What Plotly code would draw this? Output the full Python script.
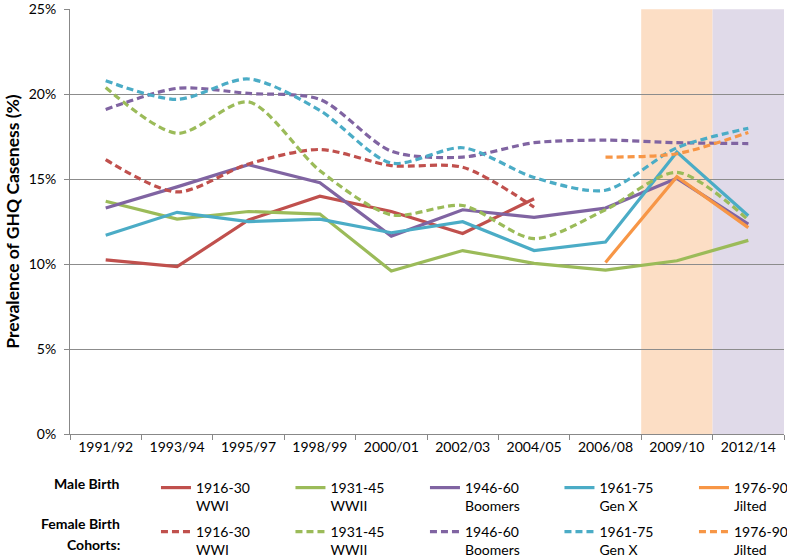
import plotly.graph_objects as go

categories = ["1991/92", "1993/94", "1995/97", "1998/99", "2000/01",
              "2002/03", "2004/05", "2006/08", "2009/10", "2012/14"]

male_1916_30 = [10.25, 9.85, 12.6, 14.0, 13.1, 11.8, 13.85, None, None, None]
male_1931_45 = [13.7, 12.65, 13.1, 12.95, 9.6, 10.8, 10.05, 9.65, 10.2, 11.4]
male_1946_60 = [13.3, 14.55, 15.85, 14.8, 11.65, 13.2, 12.75, 13.3, 15.05, 12.35]
male_1961_75 = [11.7, 13.05, 12.5, 12.65, 11.85, 12.5, 10.8, 11.3, 16.6, 12.85]
male_1976_90 = [None, None, None, None, None, None, None, 10.1, 15.15, 12.15]

female_1916_30 = [16.15, 14.25, 15.9, 16.75, 15.8, 15.7, 13.35, None, None, None]
female_1931_45 = [20.4, 17.7, 19.55, 15.5, 12.9, 13.45, 11.5, 13.2, 15.4, 12.6]
female_1946_60 = [19.1, 20.35, 20.05, 19.7, 16.65, 16.3, 17.15, 17.3, 17.15, 17.1]
female_1961_75 = [20.8, 19.7, 20.9, 19.05, 15.95, 16.85, 15.1, 14.35, 16.85, 18.0]
female_1976_90 = [None, None, None, None, None, None, None, 16.3, 16.5, 17.75]

cohort_labels = ["1916-30<br>WWI", "1931-45<br>WWII", "1946-60<br>Boomers",
                 "1961-75<br>Gen X", "1976-90<br>Jilted"]
y_ticks = [0, 5, 10, 15, 20, 25]
y_tick_labels = ["0%", "5%", "10%", "15%", "20%", "25%"]

colors = ["#C0504D", "#9BBB59", "#8064A2", "#4BACC6", "#F79646"]
FONT = "Lato, 'Open Sans', sans-serif"

fig = go.Figure()
males = [male_1916_30, male_1931_45, male_1946_60, male_1961_75, male_1976_90]
females = [female_1916_30, female_1931_45, female_1946_60, female_1961_75, female_1976_90]

for vals, lab, col in zip(males, cohort_labels, colors):
    fig.add_trace(go.Scatter(x=categories, y=vals, mode="lines", name=lab,
                             legend="legend",
                             line=dict(color=col, width=3.2),
                             connectgaps=False, hoverinfo="skip"))
for vals, lab, col in zip(females, cohort_labels, colors):
    fig.add_trace(go.Scatter(x=categories, y=vals, mode="lines", name=lab,
                             legend="legend2",
                             line=dict(color=col, width=3.2, dash="7px,4px",
                                       shape="spline", smoothing=0.8),
                             connectgaps=False, hoverinfo="skip"))

# shaded bands behind 2009/10 and 2012/14
fig.add_shape(type="rect", xref="x", yref="y", x0=7.5, x1=8.5, y0=0, y1=25,
              fillcolor="#FCDEC5", line=dict(width=0), layer="below")
fig.add_shape(type="rect", xref="x", yref="y", x0=8.5, x1=9.5, y0=0, y1=25,
              fillcolor="#E0DAE9", line=dict(width=0), layer="below")

# plot height = 557 - 9 - 123 = 425 px; paper y offsets computed from pixel rows
PH = 425.0
def py(pixel_row):
    return -(pixel_row - 434) / PH

lab_font = dict(family=FONT, size=14, color="black")
fig.add_annotation(text="<b>Male Birth</b>", xref="paper", yref="paper",
                   x=0.073, y=py(483), xanchor="right", yanchor="middle",
                   showarrow=False, font=lab_font)
fig.add_annotation(text="<b>Female Birth</b>", xref="paper", yref="paper",
                   x=0.073, y=py(523), xanchor="right", yanchor="middle",
                   showarrow=False, font=lab_font)
fig.add_annotation(text="<b>Cohorts:</b>", xref="paper", yref="paper",
                   x=0.073, y=py(544), xanchor="right", yanchor="middle",
                   showarrow=False, font=lab_font)

leg_common = dict(orientation="h", xanchor="left", yanchor="top",
                  entrywidth=89.5, entrywidthmode="pixels", valign="top",
                  font=dict(family=FONT, size=14, color="black"),
                  bgcolor="rgba(0,0,0,0)", itemwidth=30)

fig.update_layout(
    width=787, height=557,
    margin=dict(l=70, r=3, t=9, b=123, autoexpand=False),
    plot_bgcolor="white", paper_bgcolor="white",
    font=dict(family=FONT, size=14, color="black"),
    showlegend=True,
    legend=dict(x=0.1204, y=py(472), **leg_common),
    legend2=dict(x=0.1204, y=py(516), **leg_common),
    xaxis=dict(type="category", categoryorder="array", categoryarray=categories,
               range=[-0.5, 9.5], showgrid=False, showline=True,
               linecolor="#888888", linewidth=1, ticks="outside",
               tickson="boundaries", ticklen=5, tickcolor="#888888",
               tickfont=dict(family=FONT, size=14, color="black"), zeroline=False,
               automargin=False),
    yaxis=dict(range=[0, 25.02], tickvals=y_ticks, ticktext=y_tick_labels,
               showgrid=True, gridcolor="#8C8C8C", gridwidth=1,
               showline=True, linecolor="#888888", linewidth=1,
               ticks="outside", ticklen=5, tickcolor="#888888", zeroline=False,
               ticklabelstandoff=5, ticklabeloverflow="allow",
               tickfont=dict(family=FONT, size=14, color="black"), automargin=False,
               title=dict(text="<b>Prevalence of GHQ Caseness (%)</b>",
                          font=dict(family=FONT, size=17.5, color="black"), standoff=4)),
)

fig.write_html("out.html", config={"displayModeBar": False},
               post_script="document.body.style.margin='0px';")
